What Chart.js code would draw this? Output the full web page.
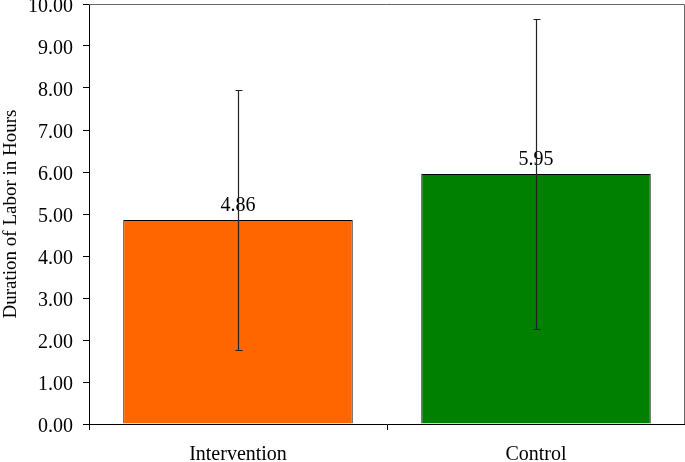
<!DOCTYPE html>
<html>
<head>
<meta charset="utf-8">
<script src="https://cdn.jsdelivr.net/npm/chart.js@4/dist/chart.umd.min.js"></script>
<style>
  html, body { margin: 0; padding: 0; background: #fff; }
  #wrap { width: 685px; height: 462px; position: relative; }
</style>
</head>
<body>
<div id="wrap"><canvas id="mainChart"></canvas></div>
<script>
const groups = ["Intervention", "Control"];
const means = [4.86, 5.95];
const errors = [3.10, 3.69];
const barColors = ["#FF6600", "#008000"];
const yTicks = [0, 1, 2, 3, 4, 5, 6, 7, 8, 9, 10];

const FONT = "'Liberation Serif', 'Times New Roman', serif";

// grey frame on top/right of plot area
const framePlugin = {
    id: 'frame',
    beforeDatasetsDraw(chart) {
        const a = chart.chartArea, ctx = chart.ctx;
        ctx.save();
        ctx.strokeStyle = '#666';
        ctx.lineWidth = 1;
        ctx.beginPath();
        ctx.moveTo(a.left, a.top + 0.5);
        ctx.lineTo(a.right - 0.5, a.top + 0.5);
        ctx.lineTo(a.right - 0.5, a.bottom);
        ctx.stroke();
        ctx.restore();
    }
};

// value labels + error bars
const errPlugin = {
    id: 'errbars',
    afterDatasetsDraw(chart) {
        const ctx = chart.ctx;
        const y = chart.scales.y;
        const meta = chart.getDatasetMeta(0);
        ctx.save();
        meta.data.forEach((bar, i) => {
            const x = Math.round(bar.x) + 0.5;
            ctx.fillStyle = '#000';
            ctx.font = '20px ' + FONT;
            ctx.textAlign = 'center';
            ctx.textBaseline = 'bottom';
            ctx.fillText(means[i].toFixed(2), bar.x, y.getPixelForValue(means[i]) - 4);
            const top = Math.round(y.getPixelForValue(means[i] + errors[i])) + 0.5;
            const bot = Math.round(y.getPixelForValue(means[i] - errors[i])) + 0.5;
            ctx.strokeStyle = '#222';
            ctx.lineWidth = 1.2;
            ctx.beginPath();
            ctx.moveTo(x, top); ctx.lineTo(x, bot);
            ctx.moveTo(x - 3, top); ctx.lineTo(x + 4, top);
            ctx.moveTo(x - 3, bot); ctx.lineTo(x + 4, bot);
            ctx.stroke();
        });
        ctx.restore();
    }
};

new Chart(document.getElementById("mainChart"), {
    type: 'bar',
    data: {
        labels: groups,
        datasets: [{
            data: means,
            backgroundColor: barColors,
            borderColor: '#000',
            borderWidth: 1,
            categoryPercentage: 0.77,
            barPercentage: 1.0
        }]
    },
    options: {
        responsive: true,
        maintainAspectRatio: false,
        animation: false,
        layout: { padding: { top: 4, right: 0, left: 0, bottom: 0 } },
        plugins: {
            legend: { display: false },
            tooltip: { enabled: false }
        },
        scales: {
            x: {
                grid: { offset: true, drawOnChartArea: false, drawTicks: true, tickLength: 6, color: '#000' },
                border: { color: '#000', width: 1 },
                ticks: { color: '#000', font: { family: FONT, size: 20 }, padding: 13 },
                afterFit(s) { s.height = 38; }
            },
            y: {
                min: 0,
                max: 10,
                afterBuildTicks(s) { s.ticks = yTicks.map(v => ({ value: v })); },
                grid: { drawOnChartArea: false, drawTicks: true, tickLength: 6, color: '#000' },
                border: { color: '#000', width: 1 },
                ticks: {
                    color: '#000',
                    font: { family: FONT, size: 20 },
                    padding: 10,
                    labelOffset: 3,
                    callback: v => Number(v).toFixed(2)
                },
                title: {
                    display: true,
                    text: 'Duration of Labor in Hours',
                    color: '#000',
                    font: { family: FONT, size: 19 },
                    padding: { top: 0, bottom: 2 }
                },
                afterFit(s) { s.width = 89; s.paddingTop = 0; s.paddingBottom = 0; }
            }
        }
    },
    plugins: [framePlugin, errPlugin]
});
</script>
</body>
</html>
